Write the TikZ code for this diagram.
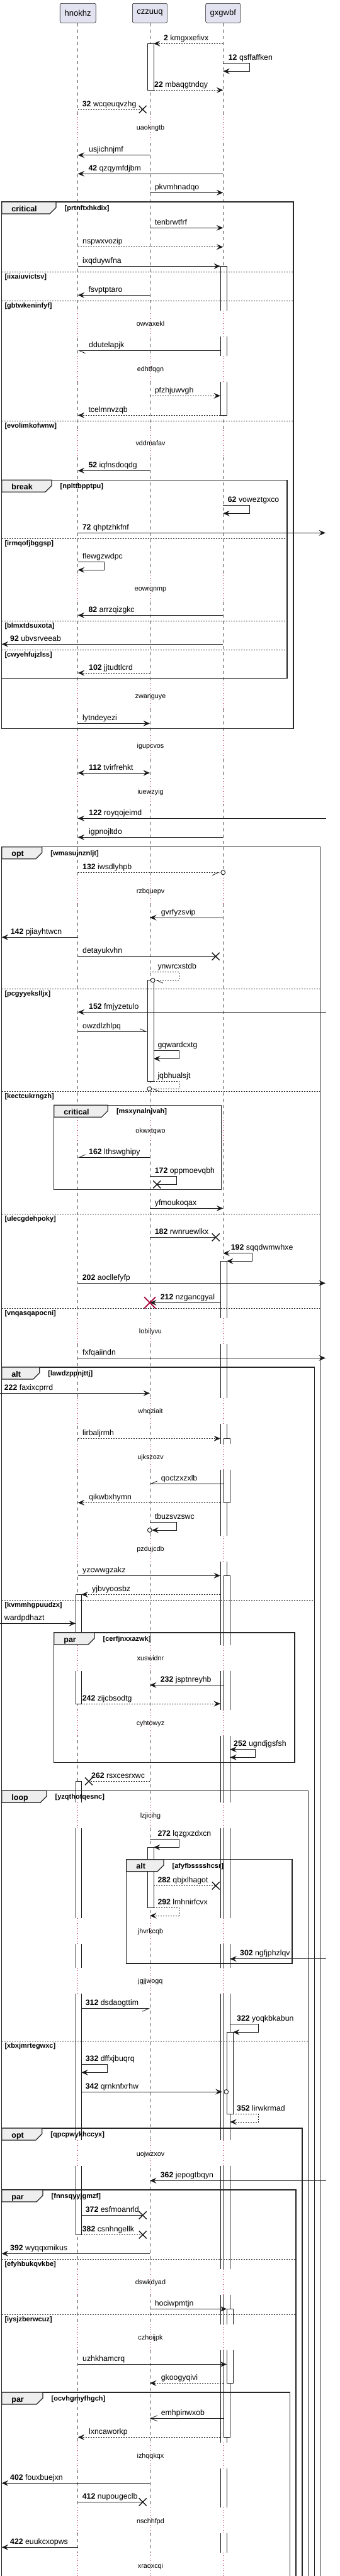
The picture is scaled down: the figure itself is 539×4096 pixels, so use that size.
\documentclass[tikz,border=0pt]{standalone}
\usepackage{fontspec}
\setmainfont{Liberation Sans}
\usetikzlibrary{arrows.meta}

\definecolor{partfill}{HTML}{E2E2F0}
\definecolor{lineclr}{HTML}{181818}
\definecolor{tabfill}{HTML}{EEEEEE}
\definecolor{delayred}{HTML}{A80036}

\newcounter{lblno}
\newcommand{\numb}[1]{\textbf{#1}}

\tikzset{
  partbox/.style={draw=lineclr, fill=partfill, rounded corners=2.5pt, line width=0.6pt,
    minimum height=31pt, inner sep=0pt, font=\fontsize{13}{15}\selectfont},
  lifeline/.style={draw=lineclr!75, line width=0.5pt, dash pattern=on 5pt off 5pt},
  delayline/.style={draw=delayred, line width=0.7pt, dash pattern=on 1pt off 3pt},
  actbar/.style={draw=lineclr, fill=white, line width=0.8pt},
  msg/.style={draw=lineclr, line width=0.8pt, -{Stealth[length=10.5pt,width=9pt,inset=4pt]}},
  dashmsg/.style={dash pattern=on 2pt off 2pt},
  halfhead/.style={-{Straight Barb[harpoon,length=10pt,width=9pt]}},
  halfheadsw/.style={-{Straight Barb[harpoon,swap,length=10pt,width=9pt]}},
  openhead/.style={-{Straight Barb[length=11pt,width=9pt]}},
  twoway/.style={{Stealth[length=10.5pt,width=9pt,inset=4pt]}-{Stealth[length=10.5pt,width=9pt,inset=4pt]}},
  crossend/.style={-},
  msgtxt/.style={font=\fontsize{12.3}{15}\selectfont, anchor=base west, inner sep=0pt},
  delaytxt/.style={font=\fontsize{10.8}{12}\selectfont, anchor=base, inner sep=0pt},
  frm/.style={draw=black!85, line width=1.4pt},
  tabshape/.style={draw=black!85, fill=tabfill, line width=1.2pt},
  tabtxt/.style={font=\fontsize{12.5}{15}\selectfont\bfseries, anchor=base west, inner sep=0pt},
  guardtxt/.style={font=\fontsize{11}{13}\selectfont\bfseries, anchor=base west, inner sep=0pt},
  sepline/.style={draw=black!85, line width=0.8pt, dash pattern=on 2pt off 2pt},
  xmk/.style={draw=lineclr, line width=1.4pt},
}

% message: [style]{x from}{x to}{y}{label x}{label}
\newcommand{\msg}[6][]{%
  \draw[msg,#1] (#2,#4) -- (#3,#4);
  \stepcounter{lblno}%
  \node[msgtxt] (t\thelblno) at (#5,#4-5) {#6};}
% self message: [style]{x from}{x out}{y top}{y bottom}{x back}{label x}{label}
\newcommand{\selfmsg}[8][]{%
  \draw[msg,#1] (#2,#4) -- (#3,#4) -- (#3,#5) -- (#6,#5);
  \stepcounter{lblno}%
  \node[msgtxt] (t\thelblno) at (#7,#4-5) {#8};}
\newcommand{\xmark}[2]{\draw[xmk] (#1-6,#2-6) -- (#1+6,#2+6) (#1-6,#2+6) -- (#1+6,#2-6);}
\newcommand{\redx}[2]{\draw[draw=delayred, line width=1.8pt] (#1-9,#2-9) -- (#1+9,#2+9) (#1-9,#2+9) -- (#1+9,#2-9);}
\newcommand{\omark}[2]{\draw[lineclr, line width=0.9pt, fill=white] (#1,#2) circle[radius=3.4pt];}
% delay: {y}{text}
\newcommand{\delayat}[2]{%
  \fill[white] (115,#1-21.5) rectangle (133,#1+19.5);
  \fill[white] (229,#1-21.5) rectangle (249,#1+19.5);
  \fill[white] (345,#1-21.5) rectangle (375,#1+19.5);
  \foreach \lx in {123.7,238,354.3} \draw[delayline] (\lx,#1-21.5) -- (\lx,#1+19.5);
  \stepcounter{lblno}%
  \node[delaytxt] (t\thelblno) at (239,#1+3.5) {#2};}
% group: {left}{right}{top}{bottom}{tab right}{kind}{guard}
\newcommand{\grpframe}[7]{%
  \draw[frm] (#1,#3) rectangle (#2,#4);
  \filldraw[tabshape] (#1,#3) -- (#5,#3) -- (#5,#3+9) -- (#5-10,#3+19) -- (#1,#3+19) -- cycle;
  \stepcounter{lblno}%
  \node[tabtxt] (t\thelblno) at (#1+15.5,#3+15) {#6};
  \stepcounter{lblno}%
  \node[guardtxt] (t\thelblno) at (#5+13.5,#3+13.3) {#7};}
% else line: {left}{right}{y}{guard}
\newcommand{\grpsep}[4]{%
  \draw[sepline] (#1,#3) -- (#2,#3);
  \stepcounter{lblno}%
  \node[guardtxt] (t\thelblno) at (#1+4.6,#3+11) {#4};}

\def\xH{123.7}
\def\xC{238}
\def\xG{354.3}

\begin{document}
\begin{tikzpicture}[x=1pt,y=-1pt]
\useasboundingbox (0,0) rectangle (539,4096);

% participants and lifelines
\node[partbox, minimum width=57pt] (hnokhz) at (\xH,20.8) {hnokhz};
\node[partbox, minimum width=55.3pt] (czzuuq) at (\xC,20.8) {czzuuq};
\node[partbox, minimum width=55.3pt] (gxgwbf) at (\xG,20.8) {gxgwbf};
\draw[lifeline] (hnokhz.south) -- (\xH,4100);
\draw[lifeline] (czzuuq.south) -- (\xC,4100);
\draw[lifeline] (gxgwbf.south) -- (\xG,4100);

% activations
\draw[actbar] (234,69.3) rectangle (244,143.3);
\draw[actbar] (234,1558.7) rectangle (244,1719.3);
\draw[actbar] (234,2937.3) rectangle (244,3033.7);
\draw[actbar] (350,423.3) rectangle (360,660.3);
\draw[actbar] (350,2005.3) rectangle (360,4120);
\draw[actbar] (355.3,2287.3) rectangle (365.3,2389.3);
\draw[actbar] (355.3,2505.3) rectangle (365.3,3875.3);
\draw[actbar] (360,3231.3) rectangle (370,3361.7);
\draw[actbar] (360,3671.3) rectangle (370,3789.3);
\draw[actbar] (120,2535.3) rectangle (129.3,2709);
\draw[actbar] (120,2832.3) rectangle (129.3,3553.3);
\fill[white] (115,2596) rectangle (133,2616);

% delays
\foreach \dy/\dt in {203/uaokngtb, 515.3/owvaxekl, 587.3/edhtfqgn, 705/vddmafav,
    936.3/eowrqnmp, 1107/zwanguye, 1186.3/igupcvos, 1259/iuewzyig, 1417.3/rzbquepv,
    1798.3/okwxtqwo, 2117/lobilyvu, 2244.3/whqziait, 2317.3/ujkszozv, 2463.3/pzdujcdb,
    2637.3/xuswidnr, 2740/cyhtowyz, 2887/lzjicihg, 3071/jhvrkcqb, 3150.3/jgjjwogq,
    3424.7/uojwzxov, 3629.3/dswkdyad, 3717.3/czhoijpk, 3905.3/izhqqkqx,
    4008.7/nschhfpd, 4080.3/xraoxcqi}
  {\delayat{\dy}{\dt}}

% messages
\msg[dashmsg]{\xG}{244}{69.3}{260}{\numb{2} kmgxxefivx}
\selfmsg{\xG}{396}{100}{113.3}{\xG}{362.7}{\numb{12} qsffaffken}
\msg[dashmsg]{244}{\xG}{143.3}{245}{\numb{22} mbaqgtndqy}
\msg[dashmsg,crossend]{\xH}{226.7}{174}{130.7}{\numb{32} wcqeuqvzhg} \xmark{226.7}{174}
\msg{\xC}{\xH}{246.7}{141}{usjichnjmf}
\msg{\xG}{\xH}{276.3}{140.3}{\numb{42} qzqymfdjbm}
\msg{\xC}{\xG}{306.3}{245.7}{pkvmhnadqo}
\msg{\xC}{\xG}{362.3}{245.7}{tenbrwtfrf}
\msg[dashmsg]{\xH}{\xG}{392.7}{131}{nspwxvozip}
\msg{\xH}{350}{423.3}{131}{ixqduywfna}
\msg{\xC}{\xH}{469.3}{140.3}{fsvptptaro}
\msg[halfhead]{350}{\xH}{557.3}{141}{ddutelapjk}
\msg[dashmsg]{\xC}{350}{629.3}{245.7}{pfzhjuwvgh}
\msg[dashmsg]{350}{\xH}{660.3}{140.3}{tcelmnvzqb}
\msg{\xC}{\xH}{748.3}{140.3}{\numb{52} iqfnsdoqdg}
\selfmsg{\xG}{396}{803.3}{816.3}{\xG}{361.7}{\numb{62} voweztgxco}
\msg{\xH}{517}{847.3}{130.7}{\numb{72} qhptzhkfnf}
\selfmsg{\xH}{165.3}{893.3}{906.3}{\xH}{131}{flewgzwdpc}
\msg{\xG}{\xH}{978.3}{140.3}{\numb{82} arrzqizgkc}
\msg{\xG}{2.7}{1024.3}{16}{\numb{92} ubvsrveeab}
\msg[dashmsg]{\xC}{\xH}{1070}{141}{\numb{102} jjtudtlcrd}
\msg{\xH}{\xC}{1150.3}{131}{lytndeyezi}
\msg[twoway]{\xH}{\xC}{1229}{141}{\numb{112} tvirfrehkt}
\msg{518}{\xH}{1301.3}{141}{\numb{122} royqojeimd}
\msg{\xG}{\xH}{1331.3}{141}{igpnojltdo}
\msg[dashmsg,halfheadsw]{\xH}{349}{1387.3}{131}{\numb{132} iwsdlyhpb} \omark{\xG}{1387.3}
\msg{\xG}{\xC}{1459}{255.7}{gvrfyzsvip}
\msg{\xH}{2.7}{1490.3}{16.7}{\numb{142} pjiayhtwcn}
\msg[crossend]{\xH}{342.7}{1520.7}{131}{detayukvhn} \xmark{342.7}{1520.7}
\selfmsg[dashmsg,halfhead]{\xC}{284.3}{1545.7}{1558.7}{247}{250.3}{ynwrcxstdb} \omark{242.7}{1558.7}
\msg{518}{\xH}{1609.3}{141}{\numb{152} fmjyzetulo}
\msg[halfhead]{\xH}{234}{1640.3}{131}{owzdlzhlpq}
\selfmsg{244}{284.3}{1670.7}{1683.3}{244}{250.3}{gqwardcxtg}
\selfmsg[dashmsg,halfhead]{244}{284.3}{1719.3}{1731.3}{241.5}{250.3}{jqbhualsjt} \omark{237.3}{1731.3}
\msg[halfheadsw]{\xC}{\xH}{1840.3}{141}{\numb{162} lthswghipy}
\selfmsg[crossend]{\xC}{280}{1870.7}{1883.3}{249.3}{245.7}{\numb{172} oppmoevqbh} \xmark{249.3}{1883.3}
\msg{\xC}{\xG}{1921.3}{245.7}{yfmoukoqax}
\msg[crossend]{\xC}{342.7}{1967.3}{245.7}{\numb{182} rwnruewlkx} \xmark{342.7}{1967.3}
\selfmsg[twoway]{\xG}{400.7}{1992.7}{2005.3}{360}{366.7}{\numb{192} sqqdwmwhxe}
\msg{\xH}{517}{2040.3}{130.7}{\numb{202} aocllefyfp}
\msg{350}{\xC}{2071.3}{254.7}{\numb{212} nzgancgyal} \redx{\xC}{2071.3}
\msg{\xH}{517}{2159.3}{131}{fxfqaiindn}
\msg{0}{\xC}{2215.3}{6.7}{\numb{222} faxixcprrd}
\msg[dashmsg]{\xH}{350}{2287.3}{131}{lirbaljrmh}
\msg[halfheadsw]{355.3}{\xC}{2359.3}{255.7}{qoctzxzxlb}
\msg[dashmsg]{350}{\xH}{2389.3}{141}{qikwbxhymn}
\selfmsg{\xC}{280}{2420.7}{2433}{241.3}{245.7}{tbuzsvzswc} \omark{237.7}{2433}
\msg{\xH}{350}{2505.3}{131}{yzcwwgzakz}
\msg[dashmsg]{350}{129.3}{2535.3}{146}{yjbvyoosbz}
\msg{0}{120}{2581.3}{6.7}{wardpdhazt}
\msg{355.3}{\xC}{2679.3}{254.7}{\numb{232} jsptnreyhb}
\msg[dashmsg]{129.3}{350}{2709}{130.7}{\numb{242} zijcbsodtg}
\selfmsg[twoway]{365.3}{405.7}{2781.7}{2794.3}{365.3}{371}{\numb{252} ugndjgsfsh}
\msg[dashmsg,crossend]{\xC}{141}{2832.3}{145}{\numb{262} rsxcesrxwc} \xmark{141}{2832.3}
\selfmsg{\xC}{284.3}{2924.7}{2937.3}{244}{250.3}{\numb{272} lqzgxzdxcn}
\msg[dashmsg,crossend]{244}{342.7}{2998.3}{250.3}{\numb{282} qbjxlhagot} \xmark{342.7}{2998.3}
\selfmsg[dashmsg]{244}{284.3}{3033.7}{3046}{\xC}{250.3}{\numb{292} lmhnirfcvx}
\msg{518}{365.3}{3114.7}{381}{\numb{302} ngfjphzlqv}
\msg[halfheadsw]{129.3}{\xC}{3193.7}{135.7}{\numb{312} dsdaogttim}
\selfmsg{365.3}{410.7}{3218.7}{3231.3}{370}{376}{\numb{322} yoqkbkabun}
\selfmsg{129.3}{170.3}{3282.7}{3295.3}{129.3}{135.7}{\numb{332} dffxjbuqrq}
\msg{129.3}{352.7}{3326}{135.7}{\numb{342} qrnknfxrhw} \omark{359.3}{3326}
\selfmsg[dashmsg]{370}{410.7}{3361.7}{3374}{365.3}{376}{\numb{352} lirwkrmad}
\msg{518}{\xC}{3467.3}{254.7}{\numb{362} jepogtbqyn}
\msg[crossend]{129.3}{226.7}{3522.3}{135.7}{\numb{372} esfmoanrld} \xmark{226.7}{3522.3}
\msg[dashmsg,crossend]{129.3}{226.7}{3553.3}{130.7}{\numb{382} csnhngellk} \xmark{226.7}{3553.3}
\msg{\xC}{2.7}{3583.3}{16}{\numb{392} wyqqxmikus}
\msg{\xC}{360}{3671.3}{245.7}{hociwpmtjn}
\msg{\xH}{360}{3759.3}{131}{uzhkhamcrq}
\msg[dashmsg]{355.3}{\xC}{3789.3}{255.7}{gkoogyqivi}
\msg[openhead]{355.3}{\xC}{3845.3}{255.7}{emhpinwxob}
\msg[dashmsg]{350}{\xH}{3875.3}{141}{lxncaworkp}
\msg{\xC}{2.7}{3948.3}{16}{\numb{402} fouxbuejxn}
\msg[crossend]{\xH}{226.7}{3978.3}{130.7}{\numb{412} nupougeclb} \xmark{226.7}{3978.3}
\msg{\xH}{2.7}{4050.3}{16}{\numb{422} euukcxopws}

% groups
\grpframe{2.7}{466}{321}{1158.3}{89}{critical}{[prtnftxhkdix]}
\grpsep{2.7}{466}{432}{[iixaiuvictsv]}
\grpsep{2.7}{466}{478.3}{[gbtwkeninfyf]}
\grpsep{2.7}{466}{669.3}{[evolimkofwnw]}
\grpframe{2.7}{456}{763.3}{1078.3}{82}{break}{[nplttbpptpu]}
\grpsep{2.7}{456}{856.3}{[irmqofjbggsp]}
\grpsep{2.7}{456}{987.3}{[blmxtdsuxota]}
\grpsep{2.7}{456}{1033}{[cwyehfujzlss]}
\grpframe{2.7}{508.7}{1346.7}{4120}{66.7}{opt}{[wmasujnznljt]}
\grpsep{2.7}{508.7}{1572.3}{[pcgyyekslljx]}
\grpsep{2.7}{508.7}{1735}{[kectcukrngzh]}
\grpsep{2.7}{508.7}{1930.3}{[ulecgdehpoky]}
\grpsep{2.7}{508.7}{2080.3}{[vnqasqapocni]}
\grpframe{85.7}{351.7}{1757.3}{1891.7}{171.3}{critical}{[msxynalnjvah]}
\grpframe{2.7}{499.3}{2174}{4120}{62.7}{alt}{[lawdzppnjttj]}
\grpsep{2.7}{499.3}{2544.3}{[kvmmhgpuudzx]}
\grpframe{85.7}{468}{2596}{2802.3}{150}{par}{[cerfjnxxazwk]}
\grpframe{2.7}{489.3}{2847.3}{4120}{74}{loop}{[yzqthotqesnc]}
\grpsep{2.7}{489.3}{3245.3}{[xbxjmrtegwxc]}
\grpframe{200.7}{464}{2956.7}{3122}{260}{alt}{[afyfbsssshcsr]}
\grpframe{2.7}{480}{3384}{4120}{66.7}{opt}{[qpcpwykhccyx]}
\grpframe{2.7}{470}{3482}{4120}{68}{par}{[fnnsqyyjgmzf]}
\grpsep{2.7}{470}{3592.3}{[efyhbukqvkbe]}
\grpsep{2.7}{470}{3680.3}{[iysjzberwcuz]}
\grpframe{2.7}{460.7}{3804}{4120}{68}{par}{[ocvhgmyfhgch]}
\end{tikzpicture}
\end{document}
